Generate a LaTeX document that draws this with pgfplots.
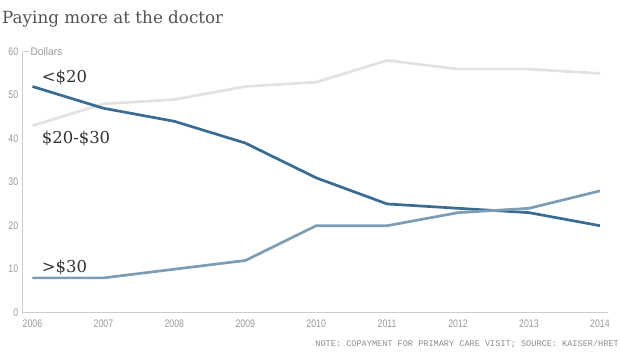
\documentclass[border=0pt]{standalone}
\usepackage{fontspec}
\setmainfont{DejaVu Serif}
\newfontfamily\narrow[FakeStretch=0.8]{Liberation Sans}
\newfontfamily\semnarrow[FakeStretch=0.93]{Liberation Sans}
\newfontfamily\notefont{Liberation Mono}
\usepackage{pgfplots}
\pgfplotsset{compat=1.18}
\definecolor{darkb}{HTML}{3A6C93}
\definecolor{midb}{HTML}{7D9DB6}
\definecolor{lgray}{HTML}{E2E2E2}
\definecolor{axgray}{HTML}{CCCCCC}
\definecolor{tickgray}{HTML}{9A9A9A}
\definecolor{txt}{HTML}{333333}
\begin{document}
\begin{tikzpicture}
\useasboundingbox (0bp,0bp) rectangle (620bp,355bp);
\node[anchor=base west, text=txt!85, font=\fontsize{16.8}{19}\selectfont, inner sep=0] at (2bp,331.5bp) {Paying more at the doctor};
\begin{axis}[
  at={(22.7bp,42.3bp)}, anchor=south west,
  scale only axis, width=585.3bp, height=261bp,
  xmin=2005.862, xmax=2014.113, ymin=0, ymax=60,
  axis x line*=bottom, axis y line*=left,
  axis line style={axgray, line width=1.5bp, -},
  xtick={2006,...,2014}, ytick={0,10,...,60},
  major tick length=0pt,
  x tick label style={/pgf/number format/1000 sep={}, font=\narrow\fontsize{11}{12}\selectfont, text=tickgray, yshift=-4bp},
  y tick label style={font=\narrow\fontsize{11}{12}\selectfont, text=tickgray, xshift=-1bp},
  /pgf/number format/assume math mode=true,
  clip=false,
]
\addplot[lgray, line width=2.7bp] coordinates {(2006,43) (2007,48) (2008,49) (2009,52) (2010,53) (2011,58) (2012,56) (2013,56) (2014,55)};
\addplot[darkb, line width=2.7bp] coordinates {(2006,52) (2007,47) (2008,44) (2009,39) (2010,31) (2011,25) (2012,24) (2013,23) (2014,20)};
\addplot[midb, line width=2.7bp] coordinates {(2006,8) (2007,8) (2008,10) (2009,12) (2010,20) (2011,20) (2012,23) (2013,24) (2014,28)};
\draw[axgray, line width=1bp] (axis cs:2005.862,60) -- (axis cs:2005.945,60);
\node[anchor=west, text=tickgray, font=\semnarrow\fontsize{11}{12}\selectfont, inner sep=0] at (axis cs:2005.97,60) {Dollars};
\node[anchor=west, text=txt, font=\fontsize{16.5}{19}\selectfont, inner sep=0] at (axis cs:2006.13,54.1) {<\$20};
\node[anchor=west, text=txt, font=\fontsize{16.5}{19}\selectfont, inner sep=0] at (axis cs:2006.13,40.1) {\$20-\$30};
\node[anchor=west, text=txt, font=\fontsize{16.5}{19}\selectfont, inner sep=0] at (axis cs:2006.13,10.4) {>\$30};
\end{axis}
\node[anchor=base east, text=tickgray!90!black, font=\notefont\fontsize{8.6}{9}\selectfont, inner sep=0] at (619bp,9bp) {NOTE: COPAYMENT FOR PRIMARY CARE VISIT; SOURCE: KAISER/HRET};
\end{tikzpicture}
\end{document}
